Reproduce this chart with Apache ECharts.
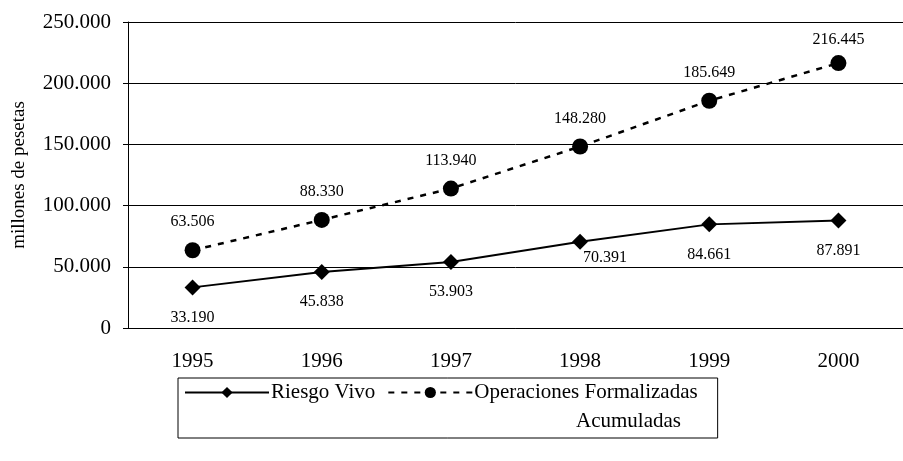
<!DOCTYPE html>
<html><head><meta charset="utf-8">
<script src="https://cdn.jsdelivr.net/npm/echarts@6/dist/echarts.min.js"></script>
<style>html,body{margin:0;padding:0;background:#fff}#c{width:903px;height:461px}</style>
</head><body><div id="c"></div>
<script>
var years = ['1995','1996','1997','1998','1999','2000'];
var riesgoVivo = [33190, 45838, 53903, 70391, 84661, 87891];
var operaciones = [63506, 88330, 113940, 148280, 185649, 216445];
var seriesNames = ['Riesgo Vivo', 'Operaciones Formalizadas'];
var legendSecondLine = 'Acumuladas';
var yAxisName = 'millones de pesetas';

function fmt(v){ return String(v).replace(/\B(?=(\d{3})+(?!\d))/g, '.'); }
var FONT = '"Liberation Serif", "Times New Roman", serif';

var chart = echarts.init(document.getElementById('c'));
chart.setOption({
  animation: false,
  textStyle: {fontFamily: FONT, color: '#000'},
  grid: {left: 128, right: -11, top: 22, bottom: 133},
  xAxis: {
    type: 'category', data: years, boundaryGap: true,
    axisLine: {lineStyle: {color: '#000', width: 1}},
    axisTick: {length: 6, lineStyle: {color: '#000'}},
    axisLabel: {fontFamily: FONT, fontSize: 21, color: '#000', margin: 23}
  },
  yAxis: {
    type: 'value', min: 0, max: 250000, interval: 50000,
    name: yAxisName, nameLocation: 'middle', nameGap: 99,
    nameTextStyle: {fontFamily: FONT, fontSize: 19, color: '#000'},
    axisLine: {show: true, lineStyle: {color: '#000', width: 1}},
    axisTick: {show: true, length: 5, lineStyle: {color: '#000'}},
    axisLabel: {fontFamily: FONT, fontSize: 21, color: '#000', margin: 17, formatter: fmt},
    splitLine: {lineStyle: {color: '#000', width: 1}}
  },
  legend: {
    left: 178, top: 378,
    padding: [4, 20, 35, 6],
    borderColor: '#000', borderWidth: 1,
    itemWidth: 84, itemHeight: 14, itemGap: 12,
    textStyle: {fontFamily: FONT, fontSize: 21, color: '#000', padding: [0,0,0,-3]},
    data: seriesNames
  },
  graphic: [{
    type: 'text', left: 576, top: 411,
    style: {text: legendSecondLine, font: '21px ' + FONT, fill: '#000'}
  }],
  series: [{
    name: seriesNames[0], type: 'line', data: riesgoVivo.map(function(v, i){
      var d = {value: v};
      if (i === 3) d.label = {offset: [25, -14]};
      return d;
    }),
    symbol: 'diamond', symbolSize: 16,
    lineStyle: {color: '#000', width: 2, type: 'solid'},
    itemStyle: {color: '#000'},
    label: {show: true, position: 'bottom', distance: 14, fontFamily: FONT, fontSize: 16, color: '#000',
      formatter: function(p){ return fmt(p.value); }}
  }, {
    name: seriesNames[1], type: 'line', data: operaciones.map(function(v, i){
      var d = {value: v};
      if (i === operaciones.length - 1) d.label = {offset: [0, 5]};
      return d;
    }),
    symbol: 'circle', symbolSize: 16,
    lineStyle: {color: '#000', width: 2.5, type: [6, 7]},
    itemStyle: {color: '#000'},
    label: {show: true, position: 'top', distance: 12, fontFamily: FONT, fontSize: 16, color: '#000',
      formatter: function(p){ return fmt(p.value); }}
  }]
});
</script></body></html>
